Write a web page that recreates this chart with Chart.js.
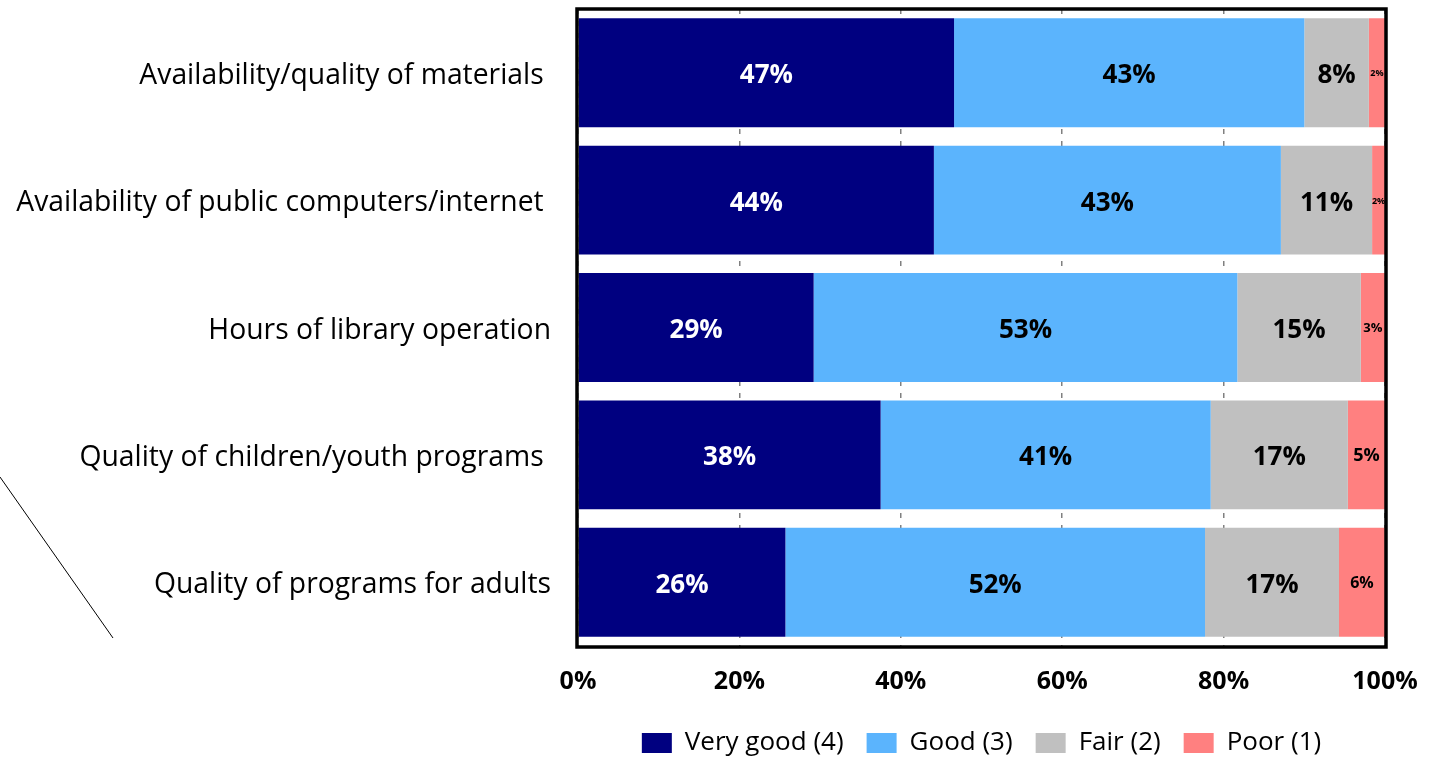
<!DOCTYPE html>
<html>
<head>
<meta charset="utf-8">
<script src="https://cdn.jsdelivr.net/npm/chart.js@4/dist/chart.umd.min.js"></script>
<style>
  html, body { margin: 0; padding: 0; background: #fff; }
  #wrap { width: 1441px; height: 759px; position: relative; }
</style>
</head>
<body>
<div id="wrap"><canvas id="c" width="1441" height="759"></canvas></div>
<script>
const categories = [
  "Availability/quality of materials ",
  "Availability of public computers/internet ",
  "Hours of library operation",
  "Quality of children/youth programs ",
  "Quality of programs for adults"
];
const seriesNames = ["Very good (4)", "Good (3)", "Fair (2)", "Poor (1)"];
const veryGood = [46.6, 44.1, 29.2, 37.5, 25.7];
const good     = [43.4, 43.0, 52.5, 40.9, 52.0];
const fair     = [8.0, 11.3, 15.3, 17.0, 16.6];
const poor     = [2.0, 1.6, 3.0, 4.6, 5.7];
const xTicks = ["0%", "20%", "40%", "60%", "80%", "100%"];

const colors = ["#000080", "#5BB4FD", "#C0C0C0", "#FF8080"];
const labelColors = ["#FFFFFF", "#000000", "#000000", "#000000"];
const poorLabelSizes = [9, 9, 13, 18, 16];
const FONT = "'Open Sans', Lato, 'Liberation Sans', sans-serif";

const seriesData = [veryGood, good, fair, poor];

const valueLabels = {
  id: 'valueLabels',
  afterDatasetsDraw(chart) {
    const ctx = chart.ctx;
    ctx.save();
    ctx.textAlign = 'center';
    ctx.textBaseline = 'middle';
    chart.data.datasets.forEach((ds, di) => {
      const meta = chart.getDatasetMeta(di);
      meta.data.forEach((el, i) => {
        const v = ds.data[i];
        const size = di === 3 ? poorLabelSizes[i] : 26;
        ctx.font = "bold " + size + "px " + FONT;
        ctx.fillStyle = labelColors[di];
        ctx.fillText(Math.round(v) + "%", (el.x + el.base) / 2, el.y + (di === 3 ? 1 : 3));
      });
    });
    ctx.restore();
  }
};

const frame = {
  id: 'frame',
  afterDraw(chart) {
    const a = chart.chartArea;
    const ctx = chart.ctx;
    ctx.save();
    ctx.strokeStyle = '#000';
    ctx.lineWidth = 3.5;
    ctx.strokeRect(a.left - 1, a.top, a.right - a.left + 2, a.bottom - a.top + 1);
    // stray diagonal line present in the original image
    ctx.lineWidth = 1;
    ctx.beginPath();
    ctx.moveTo(0, 477);
    ctx.lineTo(113, 638);
    ctx.stroke();
    ctx.restore();
  }
};

new Chart(document.getElementById('c'), {
  type: 'bar',
  data: {
    labels: categories,
    datasets: seriesNames.map((n, i) => ({
      label: n,
      data: seriesData[i],
      backgroundColor: colors[i],
      borderWidth: 0,
      barPercentage: 0.855,
      categoryPercentage: 1.0
    }))
  },
  options: {
    indexAxis: 'y',
    responsive: false,
    animation: false,
    devicePixelRatio: 1,
    layout: { padding: { top: 9, right: 56, left: 0, bottom: 0 } },
    plugins: {
      legend: {
        position: 'bottom',
        fullSize: false,
        maxHeight: 52,
        labels: {
          boxWidth: 30,
          boxHeight: 20,
          padding: 23,
          color: '#000',
          font: { family: FONT, size: 26, lineHeight: 1.0 }
        }
      },
      tooltip: { enabled: false }
    },
    scales: {
      x: {
        stacked: true,
        min: 0,
        max: 100,
        border: { display: false, dash: [5, 7] },
        grid: {
          color: '#808080',
          lineWidth: 1.5,
          drawTicks: false
        },
        ticks: {
          stepSize: 20,
          padding: 21,
          color: '#000',
          font: { family: FONT, size: 25, weight: 'bold' },
          callback: (v, idx) => xTicks[idx]
        },
        afterFit(s) { s.height = 61; s.paddingLeft = 0; s.paddingRight = 0; }
      },
      y: {
        stacked: true,
        border: { display: false },
        grid: { display: false, drawTicks: false },
        ticks: {
          padding: 27,
          labelOffset: 3,
          color: '#000',
          font: { family: FONT, size: 28.3 }
        },
        afterFit(s) { s.width = 578; s.paddingTop = 0; s.paddingBottom = 0; }
      }
    }
  },
  plugins: [valueLabels, frame]
});
</script>
</body>
</html>
